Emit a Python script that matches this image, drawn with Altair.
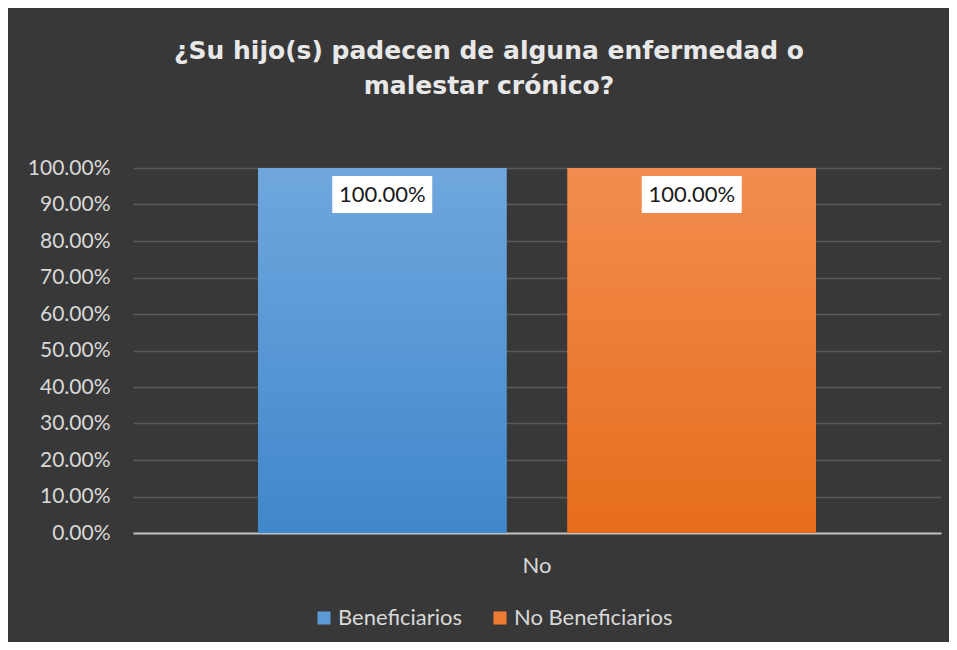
import altair as alt
import pandas as pd

categories = ["No"]
series = ["Beneficiarios", "No Beneficiarios"]
values = [1.0, 1.0]
y_ticks = [0.0, 0.1, 0.2, 0.3, 0.4, 0.5, 0.6, 0.7, 0.8, 0.9, 1.0]
solid_colors = ["#5b9bd5", "#ed7d31"]
grad_top = ["#70a7de", "#f28d4f"]
grad_bottom = ["#3f87cb", "#e66d1b"]

rows = []
for s, v in zip(series, values):
    rows.append({"cat": categories[0], "serie": s, "val": v})
df = pd.DataFrame(rows)

title_lines = ["¿Su hijo(s) padecen de alguna enfermedad o", "malestar crónico?"]

x_axis = alt.Axis(
    labelAngle=0,
    labelFont="Lato",
    labelFontSize=22,
    labelColor="#d9d9d9",
    labelPadding=22,
    ticks=False,
    domain=True,
    domainColor="#bfbfbf",
    domainWidth=2,
    grid=False,
)
x_scale = alt.Scale(paddingInner=0, paddingOuter=0.224)
xoff = alt.XOffset(
    "serie:N",
    scale=alt.Scale(domain=series, paddingInner=0.197, paddingOuter=0),
)
y_axis = alt.Axis(
    format=".2%",
    values=y_ticks,
    tickCount=len(y_ticks) + 1,
    labelOverlap=False,
    labelFont="Lato",
    labelFontSize=21,
    labelColor="#d9d9d9",
    labelPadding=23,
    ticks=False,
    domain=False,
    grid=True,
    gridColor="#595959",
    gridWidth=1.5,
)
y_scale = alt.Scale(domain=[0, 1])


def xe():
    return alt.X("cat:N", title=None, scale=x_scale, axis=x_axis)


def ye():
    return alt.Y("val:Q", title=None, stack=False, scale=y_scale, axis=y_axis)


base = alt.Chart(df)

bars = base.mark_bar().encode(
    x=xe(),
    xOffset=xoff,
    y=ye(),
    color=alt.Color(
        "serie:N",
        scale=alt.Scale(domain=series, range=solid_colors),
        legend=alt.Legend(
            title=None,
            orient="none",
            direction="horizontal",
            legendX=180,
            legendY=439,
            symbolType="square",
            symbolSize=170,
            symbolStrokeWidth=0,
            labelFont="Lato",
            labelFontSize=22,
            labelColor="#d9d9d9",
            labelOffset=3,
            columnPadding=26,
            padding=0,
        ),
    ),
)

grad_layers = []
for s, top, bot in zip(series, grad_top, grad_bottom):
    grad_layers.append(
        base.transform_filter(alt.datum.serie == s)
        .mark_bar(
            color=alt.Gradient(
                gradient="linear",
                stops=[
                    alt.GradientStop(color=top, offset=0),
                    alt.GradientStop(color=bot, offset=1),
                ],
                x1=0, x2=0, y1=0, y2=1,
            )
        )
        .encode(x=xe(), xOffset=xoff, y=ye())
    )

boxes = base.mark_bar(color="white", width=100, yOffset=8, y2Offset=45).encode(
    x=xe(),
    xOffset=xoff,
    y=ye(),
    y2=alt.Y2("val:Q"),
)

labels = base.mark_text(
    dy=26.5, baseline="middle", align="center", font="Lato", fontSize=22, color="#1a1a1a"
).encode(
    x=xe(),
    xOffset=xoff,
    y=ye(),
    text=alt.Text("val:Q", format=".2%"),
)

chart = (
    alt.layer(bars, *grad_layers, boxes, labels)
    .properties(
        width=808,
        height=365,
        padding={"left": 125, "top": 160, "right": 8, "bottom": 109},
        autosize=alt.AutoSizeParams(type="none"),
        background="#383838",
        title=alt.TitleParams(
            text=title_lines,
            font="DejaVu Sans",
            fontWeight="bold",
            fontSize=25,
            color="#e8e8e8",
            lineHeight=35,
            anchor="middle",
            baseline="bottom",
            offset=33,
            dx=-48,
        ),
    )
    .configure_view(stroke=None)
)

chart.save("out.html", embed_options={"renderer": "svg", "actions": False})
